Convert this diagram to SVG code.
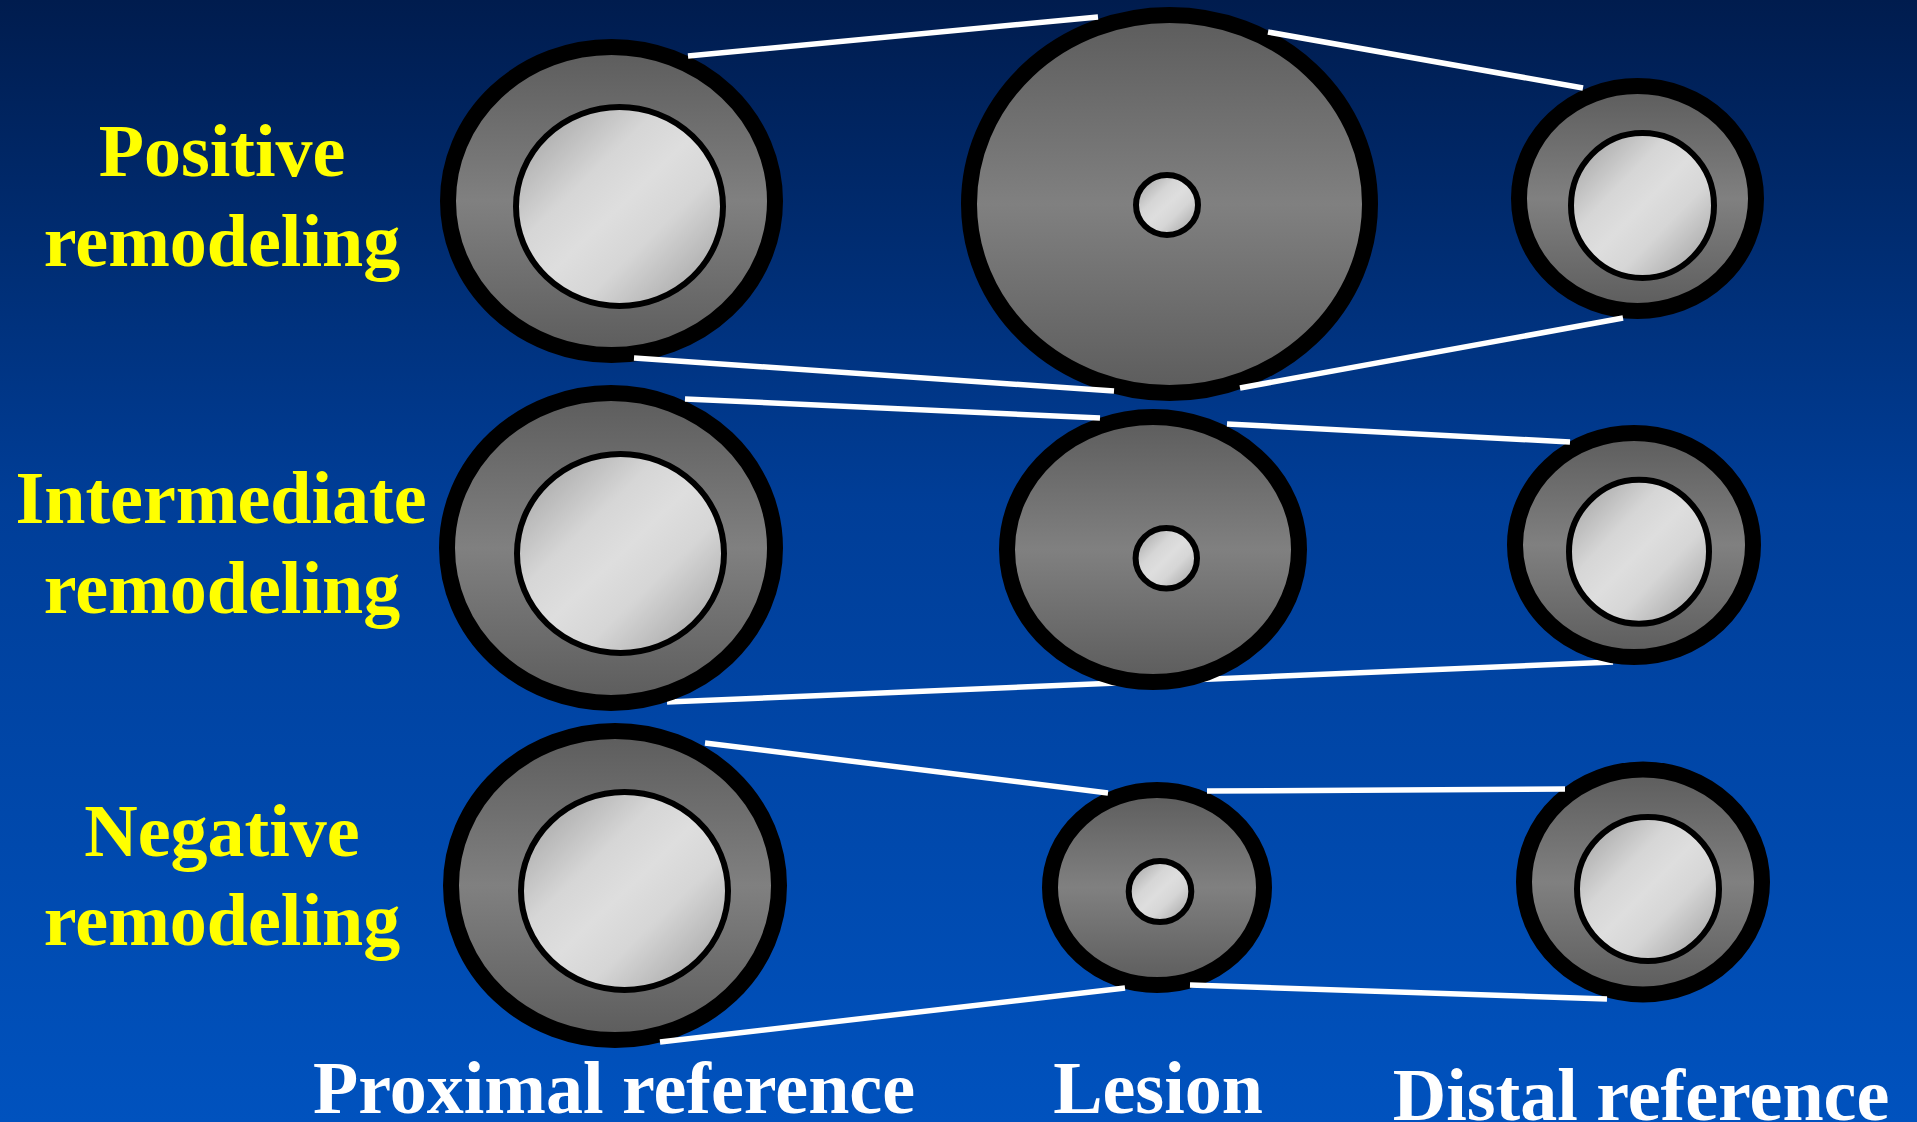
<svg xmlns="http://www.w3.org/2000/svg" width="1917" height="1122" viewBox="0 0 1917 1122">
  <defs>
    <linearGradient id="bg" x1="0" y1="0" x2="0" y2="1">
      <stop offset="0" stop-color="#001c4e"/>
      <stop offset="0.45" stop-color="#003e98"/>
      <stop offset="1" stop-color="#0052be"/>
    </linearGradient>
    <linearGradient id="wall" x1="0" y1="0" x2="0" y2="1">
      <stop offset="0" stop-color="#5c5c5c"/>
      <stop offset="0.5" stop-color="#808080"/>
      <stop offset="1" stop-color="#5c5c5c"/>
    </linearGradient>
    <linearGradient id="lumen" x1="0" y1="0" x2="1" y2="1">
      <stop offset="0" stop-color="#9a9a9a"/>
      <stop offset="0.35" stop-color="#d6d6d6"/>
      <stop offset="0.5" stop-color="#dedede"/>
      <stop offset="0.65" stop-color="#d6d6d6"/>
      <stop offset="1" stop-color="#9a9a9a"/>
    </linearGradient>
  </defs>
  <style>
    .wall { fill: url(#wall); stroke: #000; stroke-width: 16; }
    .lumen { fill: url(#lumen); stroke: #000; stroke-width: 6; }
    .side { font-family: "Liberation Serif", "Times New Roman", serif; font-weight: bold; font-size: 74px; fill: #ffff00; text-anchor: middle; }
    .foot { font-family: "Liberation Serif", "Times New Roman", serif; font-weight: bold; font-size: 74px; fill: #ffffff; text-anchor: middle; }
    .link { stroke: #ffffff; stroke-width: 5.5; fill: none; }
  </style>

  <rect x="0" y="0" width="1917" height="1122" fill="url(#bg)"/>

  <!-- row labels -->
  <g id="label-positive">
    <text class="side" x="222" y="176">Positive</text>
    <text class="side" x="222" y="266">remodeling</text>
  </g>
  <g id="label-intermediate">
    <text class="side" x="221" y="523">Intermediate</text>
    <text class="side" x="222" y="613">remodeling</text>
  </g>
  <g id="label-negative">
    <text class="side" x="222" y="856">Negative</text>
    <text class="side" x="222" y="945">remodeling</text>
  </g>

  <!-- lower outline of the intermediate row runs behind the lesion -->
  <g id="connectors-back">
    <line class="link" x1="667" y1="702" x2="1613" y2="662"/>
  </g>

  <!-- row 1: positive remodeling -->
  <g id="pos-proximal">
    <ellipse class="wall" cx="611.5" cy="201" rx="163.5" ry="154"/>
    <ellipse class="lumen" cx="619.5" cy="206.5" rx="103.5" ry="99.5"/>
  </g>
  <g id="pos-lesion">
    <ellipse class="wall" cx="1169.5" cy="204" rx="200.5" ry="189"/>
    <ellipse class="lumen" cx="1167" cy="205" rx="31" ry="30"/>
  </g>
  <g id="pos-distal">
    <ellipse class="wall" cx="1637.5" cy="198.5" rx="118.5" ry="112.5"/>
    <ellipse class="lumen" cx="1642.5" cy="205.5" rx="71.5" ry="72.5"/>
  </g>

  <!-- row 2: intermediate remodeling -->
  <g id="int-proximal">
    <ellipse class="wall" cx="611" cy="548" rx="164" ry="155"/>
    <ellipse class="lumen" cx="620.5" cy="553.5" rx="103.5" ry="99.5"/>
  </g>
  <g id="int-lesion">
    <ellipse class="wall" cx="1153" cy="549.5" rx="146" ry="132.5"/>
    <ellipse class="lumen" cx="1166.3" cy="558.3" rx="30.7" ry="30.3"/>
  </g>
  <g id="int-distal">
    <ellipse class="wall" cx="1634" cy="545" rx="119" ry="112"/>
    <ellipse class="lumen" cx="1639" cy="551.7" rx="70" ry="72"/>
  </g>

  <!-- row 3: negative remodeling -->
  <g id="neg-proximal">
    <ellipse class="wall" cx="615" cy="885.5" rx="164" ry="154.5"/>
    <ellipse class="lumen" cx="624.5" cy="891" rx="103.5" ry="99"/>
  </g>
  <g id="neg-lesion">
    <ellipse class="wall" cx="1157" cy="887.5" rx="107" ry="97.5"/>
    <ellipse class="lumen" cx="1160" cy="891.5" rx="31.3" ry="30.5"/>
  </g>
  <g id="neg-distal">
    <ellipse class="wall" cx="1643" cy="882" rx="119" ry="112.5"/>
    <ellipse class="lumen" cx="1648" cy="889" rx="71" ry="72"/>
  </g>

  <!-- outline lines joining the vessel sections -->
  <g id="connectors">
    <line class="link" x1="688" y1="56" x2="1098" y2="17"/>
    <line class="link" x1="1268" y1="32" x2="1583" y2="88"/>
    <line class="link" x1="634" y1="358" x2="1114" y2="391"/>
    <line class="link" x1="1240" y1="388" x2="1623" y2="318"/>

    <line class="link" x1="685" y1="399" x2="1100" y2="418"/>
    <line class="link" x1="1227" y1="424" x2="1570" y2="442"/>

    <line class="link" x1="705" y1="743" x2="1108" y2="793"/>
    <line class="link" x1="1207" y1="791" x2="1565" y2="789"/>
    <line class="link" x1="660" y1="1042" x2="1125" y2="988"/>
    <line class="link" x1="1190" y1="985" x2="1607" y2="999"/>
  </g>

  <!-- column captions -->
  <g id="captions">
    <text class="foot" x="614" y="1113">Proximal reference</text>
    <text class="foot" x="1158" y="1113">Lesion</text>
    <text class="foot" x="1641" y="1120">Distal reference</text>
  </g>
</svg>
